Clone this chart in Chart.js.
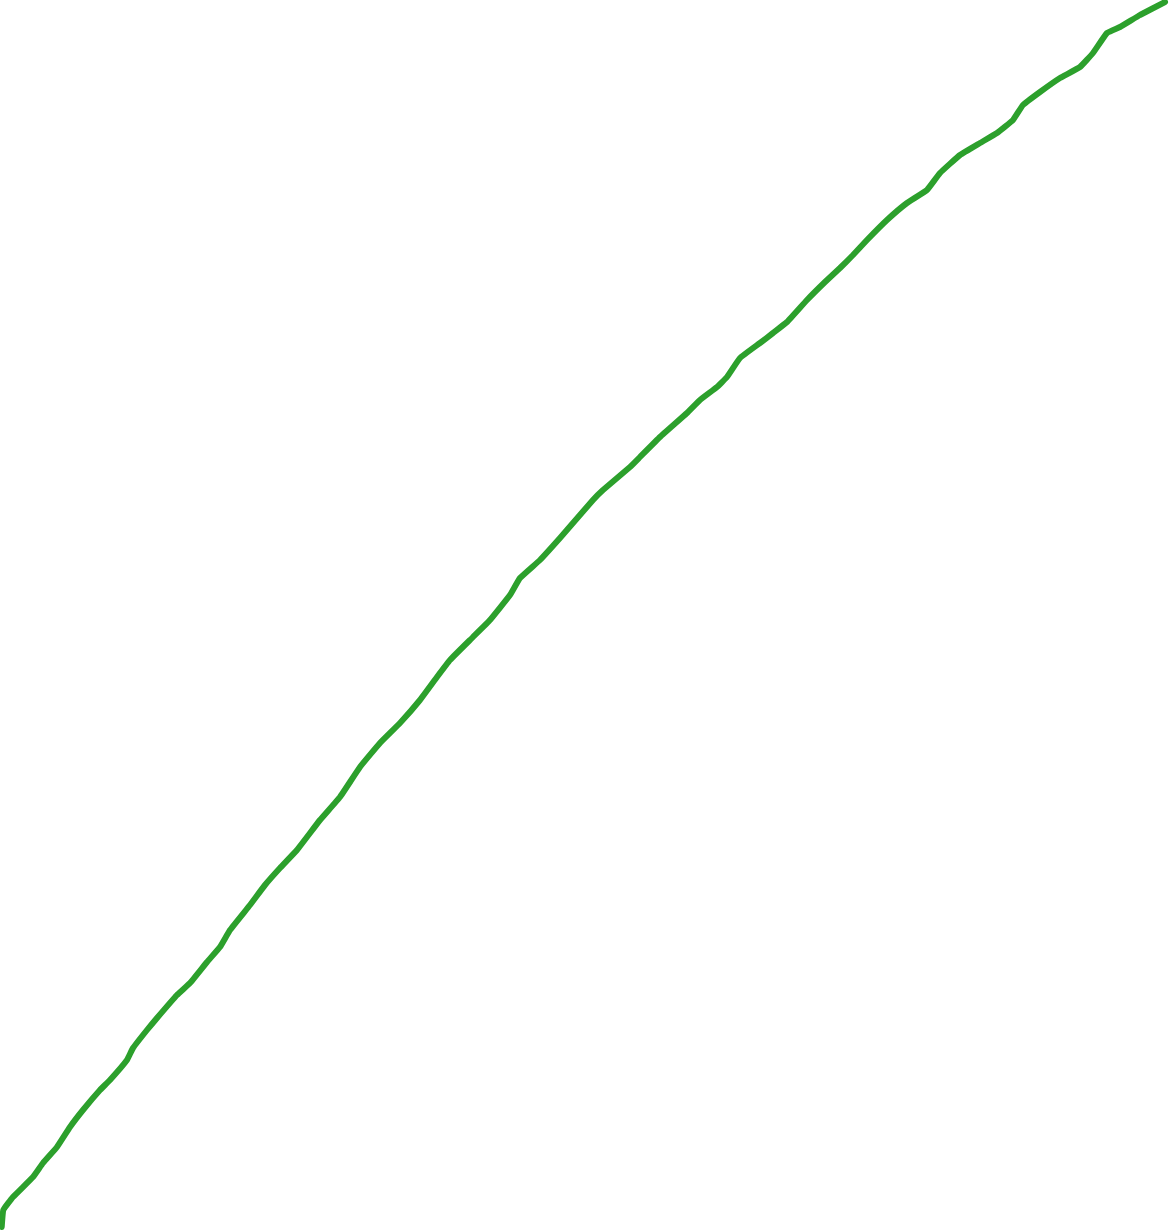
<!DOCTYPE html>
<html>
<head>
<meta charset="utf-8">
<script src="https://cdn.jsdelivr.net/npm/chart.js@4/dist/chart.umd.min.js"></script>
<style>
  html, body { margin: 0; padding: 0; background: #fff; }
  #wrap { width: 1170px; height: 1230px; position: relative; }
</style>
</head>
<body>
<div id="wrap"><canvas id="curveChart"></canvas></div>
<script>
// values (x to the right, y upward)
const xValues = [1.7, 3.3, 13, 33, 43, 57, 70, 83, 100, 110, 127, 133, 147, 157, 177, 190, 207, 220, 230,
    250, 265, 280, 297, 320, 340, 360, 380, 400, 420, 437, 450, 473, 490, 510, 520, 540,
    560, 573, 593, 603, 630, 640, 660, 687, 700, 717, 727, 740, 760, 773, 787, 807,
    825, 840, 853, 867, 887, 907, 927, 940, 960, 980, 997, 1013, 1023, 1040, 1060, 1080, 1093, 1107, 1120, 1140, 1165];
const yValues = [3, 20, 33, 53, 67, 83, 103, 120, 140, 150, 170, 182, 200, 212, 235, 247, 268, 283, 300,
    325, 345, 362, 380, 410, 433, 463, 487, 507, 530, 553, 570, 593, 610, 635, 652, 670,
    692, 707, 730, 740, 763, 773, 793, 817, 830, 843, 853, 872, 887, 897, 908, 930,
    948, 962, 975, 990, 1010, 1027, 1040, 1057, 1075, 1087, 1097, 1110, 1125, 1138, 1152, 1163, 1177, 1197, 1203, 1215, 1228];

document.addEventListener('DOMContentLoaded', function() {
    const ctx = document.getElementById('curveChart').getContext('2d');
    const points = xValues.map((x, i) => ({ x: x, y: yValues[i] }));

    new Chart(ctx, {
        type: 'line',
        data: {
            datasets: [{
                data: points,
                borderColor: '#2ca02c',
                borderWidth: 6,
                pointRadius: 0,
                tension: 0.1,
                borderJoinStyle: 'round',
                borderCapStyle: 'round',
                fill: false,
                clip: false
            }]
        },
        options: {
            responsive: true,
            maintainAspectRatio: false,
            animation: false,
            layout: { padding: 0 },
            plugins: {
                legend: { display: false },
                tooltip: { enabled: false }
            },
            scales: {
                x: { type: 'linear', min: 0, max: 1170, display: false },
                y: { type: 'linear', min: 0, max: 1230, display: false }
            }
        }
    });
});
</script>
</body>
</html>
